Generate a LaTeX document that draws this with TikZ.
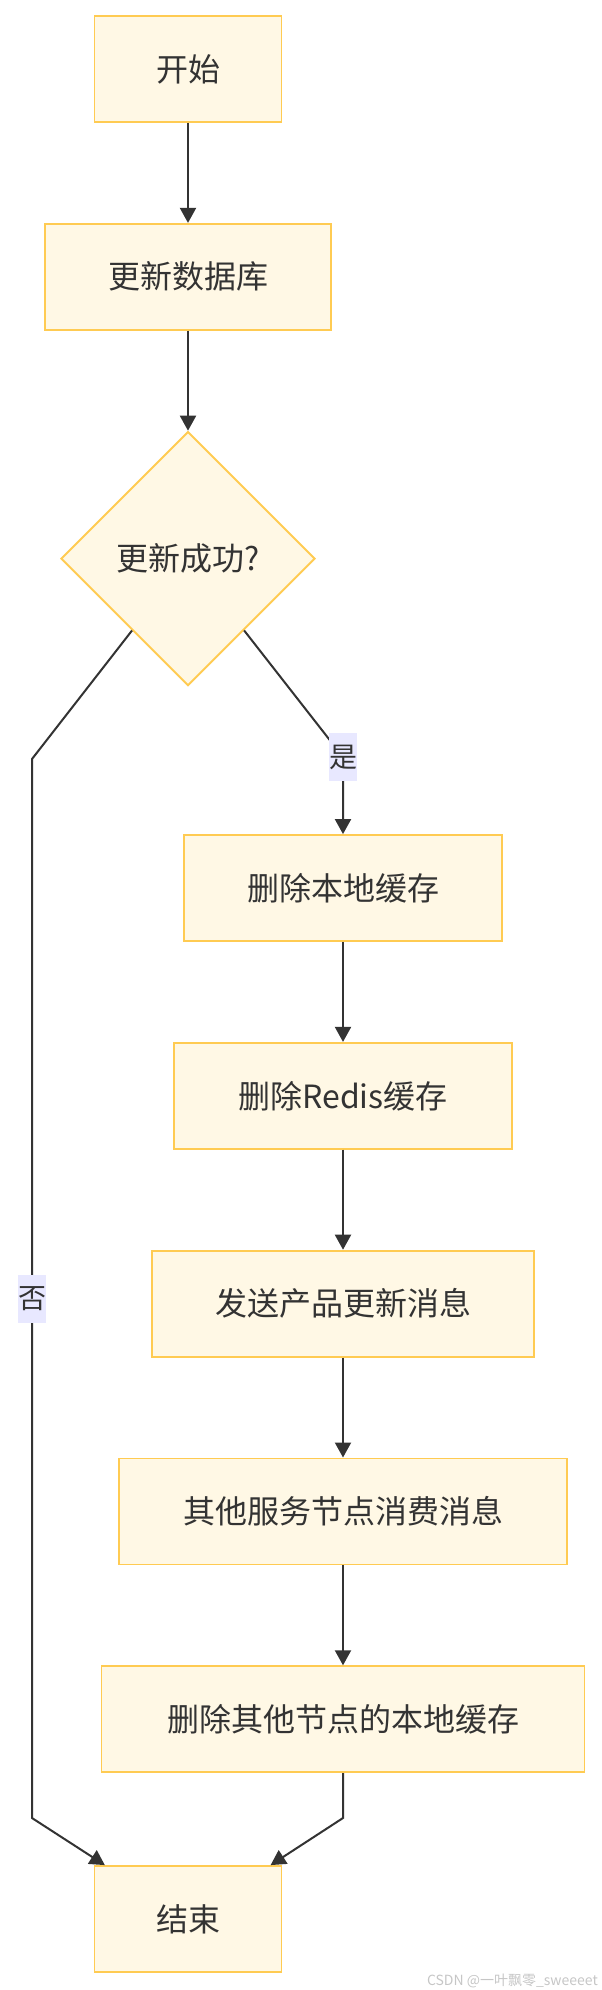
\documentclass[tikz,border=0pt]{standalone}
\usepackage{fontspec}
\setmainfont{Noto Sans CJK SC}
\usepackage{tikz}
\usetikzlibrary{positioning,arrows.meta,shapes.geometric}
\definecolor{boxfill}{HTML}{FFF8E5}
\definecolor{boxline}{HTML}{FFCB52}
\definecolor{lblfill}{HTML}{E8E8FF}
\definecolor{ink}{HTML}{333333}

\begin{document}
\begin{tikzpicture}[x=1pt, y=1pt,
  box/.style={draw=boxline, fill=boxfill, line width=1.8pt, minimum height=106pt,
              inner sep=0pt, text=ink, font=\fontsize{32}{38}\selectfont},
  decision/.style={box, diamond, aspect=1, minimum width=254pt, minimum height=254pt},
  arr/.style={-{Triangle[length=15pt, width=16pt]}, line width=2pt, draw=ink},
  lbl/.style={fill=lblfill, inner sep=0pt, minimum width=28pt, minimum height=48pt,
              text=ink, font=\fontsize{28}{32}\selectfont}
]
  \useasboundingbox (0,0) rectangle (602,-1990);

  % Start
  \node[box, minimum width=187pt] (start) at (188,-69) {开始};

  % Database update
  \node[box, minimum width=286pt, below=100pt of start] (db) {更新数据库};
  \draw[arr] (start) -- (db);

  % Decision
  \node[decision, below=100pt of db] (dec) {更新成功?};
  \draw[arr] (db) -- (dec);

  % Yes branch: cache invalidation chain
  \node[box, minimum width=318pt] (dellocal) at (343,-888) {删除本地缓存};
  \coordinate (ybend) at (343,-757);
  \draw[arr] (dec) -- (ybend) node[lbl] {是} -- (dellocal);

  \node[box, minimum width=338pt, below=100pt of dellocal] (delredis) {删除Redis缓存};
  \draw[arr] (dellocal) -- (delredis);

  \node[box, minimum width=382pt, below=100pt of delredis] (sendmsg) {发送产品更新消息};
  \draw[arr] (delredis) -- (sendmsg);

  \node[box, minimum width=448pt, below=100pt of sendmsg] (consume) {其他服务节点消费消息};
  \draw[arr] (sendmsg) -- (consume);

  \node[box, minimum width=483pt, below=100pt of consume] (delother) {删除其他节点的本地缓存};
  \draw[arr] (consume) -- (delother);

  % End
  \node[box, minimum width=187pt] (end) at (188,-1919) {结束};
  \coordinate (mbend) at (343,-1818);
  \draw[arr] (delother) -- (mbend) -- (end);

  % No branch
  \coordinate (nbend) at (32,-759);
  \coordinate (nbend2) at (32,-1818);
  \draw[arr] (dec) -- (nbend) -- node[lbl, pos=0.51] {否} (nbend2) -- (end);

  % Watermark
  \node[anchor=south east, inner sep=0pt, text=gray!45, font=\fontsize{14}{16}\selectfont]
    (mark) at (598,-1988) {CSDN @一叶飘零\_sweeeet};
\end{tikzpicture}
\end{document}
